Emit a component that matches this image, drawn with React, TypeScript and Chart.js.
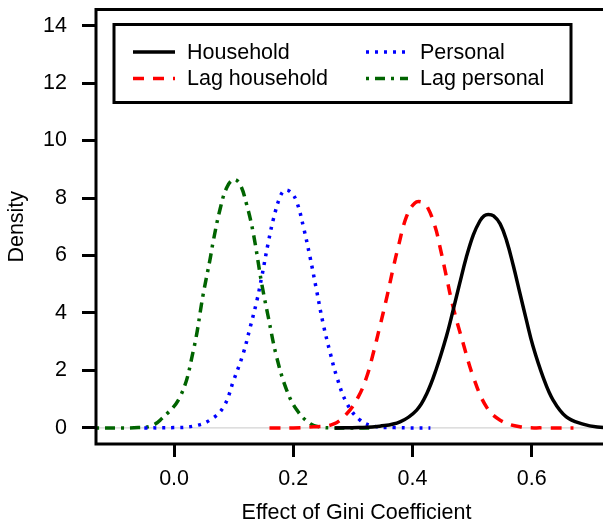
import React, { useEffect, useRef } from "react";
import { Chart, registerables } from "chart.js";

Chart.register(...registerables);

// ---- data ----
const seriesLabels = ["Household", "Lag household", "Personal", "Lag personal"];

const householdX = [0.27, 0.31, 0.345, 0.379, 0.407, 0.424, 0.44, 0.457, 0.468, 0.479, 0.49, 0.502, 0.513, 0.52, 0.527, 0.536, 0.547, 0.558, 0.569, 0.58, 0.591, 0.602, 0.619, 0.636, 0.658, 0.686, 0.71, 0.745];
const householdY = [0, 0.01, 0.06, 0.21, 0.62, 1.2, 2.06, 3.2, 4.09, 5.02, 5.92, 6.72, 7.2, 7.38, 7.43, 7.38, 7.1, 6.5, 5.65, 4.7, 3.75, 2.85, 1.77, 0.96, 0.38, 0.13, 0.03, 0];

const lagHouseholdX = [0.16, 0.2, 0.234, 0.267, 0.29, 0.309, 0.323, 0.334, 0.345, 0.357, 0.368, 0.376, 0.39, 0.404, 0.415, 0.424, 0.438, 0.446, 0.457, 0.468, 0.485, 0.502, 0.524, 0.547, 0.58, 0.62, 0.67];
const lagHouseholdY = [0, 0, 0.04, 0.13, 0.5, 1.08, 1.77, 2.59, 3.51, 4.56, 5.6, 6.3, 7.36, 7.83, 7.86, 7.72, 6.99, 6.3, 5.25, 4.21, 2.94, 1.77, 0.73, 0.27, 0.04, 0, 0];

const personalX = [-0.05, 0.0, 0.032, 0.06, 0.083, 0.1, 0.116, 0.127, 0.139, 0.147, 0.158, 0.167, 0.178, 0.186, 0.196, 0.206, 0.217, 0.228, 0.239, 0.25, 0.262, 0.273, 0.29, 0.312, 0.335, 0.37, 0.43];
const personalY = [0, 0.01, 0.06, 0.27, 0.73, 1.66, 2.59, 3.45, 4.44, 5.25, 6.45, 7.3, 8.05, 8.27, 8.2, 7.85, 6.99, 5.95, 4.79, 3.63, 2.6, 1.77, 0.85, 0.27, 0.06, 0.01, 0];

const lagPersonalX = [-0.131, -0.099, -0.06, -0.04, -0.0235, 0.01, 0.0324, 0.049, 0.06, 0.066, 0.077, 0.088, 0.0995, 0.11, 0.122, 0.133, 0.147, 0.158, 0.172, 0.189, 0.206, 0.228, 0.245, 0.27, 0.33];
const lagPersonalY = [0, 0, 0.01, 0.06, 0.27, 1.08, 2.7, 4.67, 5.83, 6.53, 7.6, 8.35, 8.64, 8.5, 7.75, 6.76, 5.02, 3.86, 2.47, 1.31, 0.62, 0.15, 0.03, 0, 0];

const xTicks = [0, 0.2, 0.4, 0.6];
const yTicks = [0, 2, 4, 6, 8, 10, 12, 14];

const xTitle = "Effect of Gini Coefficient";
const yTitle = "Density";

// ---- styles ----
const FONT_FAMILY = '"Liberation Sans", Arial, Helvetica, sans-serif';
const FONT_SIZE = 21.5;
const styles = [
  { color: "#000000", dash: [] as number[], width: 3.5 },
  { color: "#ff0000", dash: [11, 9], width: 3.5 },
  { color: "#0000ff", dash: [3, 6], width: 3.5 },
  { color: "#006400", dash: [3, 6, 10, 6], width: 3.5 },
];

const toPoints = (xs: number[], ys: number[]) => xs.map((x, i) => ({ x, y: ys[i] }));

const zeroLinePlugin = {
  id: "zeroLine",
  beforeDatasetsDraw(chart: any) {
    const { ctx, chartArea, scales } = chart;
    const y = scales.y.getPixelForValue(0);
    ctx.save();
    ctx.strokeStyle = "#c8c8c8";
    ctx.lineWidth = 1;
    ctx.beginPath();
    ctx.moveTo(chartArea.left, y);
    ctx.lineTo(chartArea.right, y);
    ctx.stroke();
    ctx.restore();
  },
};

const framePlugin = {
  id: "frame",
  afterDatasetsDraw(chart: any) {
    const { ctx, chartArea } = chart;
    ctx.save();
    ctx.strokeStyle = "#000";
    ctx.lineWidth = 3;
    ctx.strokeRect(chartArea.left, chartArea.top, chartArea.right - chartArea.left, chartArea.bottom - chartArea.top);
    ctx.restore();
  },
};

const boxLegendPlugin = {
  id: "boxLegend",
  afterDatasetsDraw(chart: any) {
    const { ctx, chartArea } = chart;
    const x0 = chartArea.left + 18;
    const y0 = chartArea.top + 15;
    const w = 457;
    const h = 78;
    ctx.save();
    ctx.fillStyle = "#fff";
    ctx.fillRect(x0, y0, w, h);
    ctx.strokeStyle = "#000";
    ctx.lineWidth = 3;
    ctx.strokeRect(x0, y0, w, h);
    const colX = [19, 252];
    const rowY = [27.5, 54];
    chart.data.datasets.forEach((ds: any, i: number) => {
      const col = Math.floor(i / 2);
      const row = i % 2;
      const lx = x0 + colX[col];
      const ly = y0 + rowY[row];
      ctx.save();
      ctx.strokeStyle = ds.borderColor;
      ctx.lineWidth = ds.borderWidth;
      ctx.setLineDash(ds.borderDash || []);
      ctx.lineCap = "butt";
      ctx.beginPath();
      ctx.moveTo(lx, ly);
      ctx.lineTo(lx + 42, ly);
      ctx.stroke();
      ctx.restore();
      ctx.fillStyle = "#000";
      ctx.font = `${FONT_SIZE}px ${FONT_FAMILY}`;
      ctx.textBaseline = "middle";
      ctx.textAlign = "left";
      ctx.fillText(ds.label, lx + 54, ly + 1);
    });
    ctx.restore();
  },
};

export default function App() {
  const canvasRef = useRef<HTMLCanvasElement | null>(null);

  useEffect(() => {
    if (!canvasRef.current) return;
    const seriesData = [
      toPoints(householdX, householdY),
      toPoints(lagHouseholdX, lagHouseholdY),
      toPoints(personalX, personalY),
      toPoints(lagPersonalX, lagPersonalY),
    ];
    const font = { family: FONT_FAMILY, size: FONT_SIZE };
    const chart = new Chart(canvasRef.current, {
      type: "line",
      data: {
        datasets: seriesData.map((d, i) => ({
          label: seriesLabels[i],
          data: d,
          borderColor: styles[i].color,
          backgroundColor: styles[i].color,
          borderWidth: styles[i].width,
          borderDash: styles[i].dash,
          borderCapStyle: "butt",
          borderJoinStyle: "round",
          pointRadius: 0,
          fill: false,
          tension: 0.4,
        })),
      },
      options: {
        responsive: false,
        animation: false,
        devicePixelRatio: 1,
        layout: { padding: { top: 9.5, right: 3, left: 0, bottom: 0 } },
        plugins: { legend: { display: false }, tooltip: { enabled: false } },
        scales: {
          x: {
            type: "linear",
            min: -0.131,
            max: 0.743,
            border: { display: false },
            grid: { display: true, drawOnChartArea: false, drawTicks: true, tickLength: 13, tickWidth: 3, tickColor: "#000" },
            ticks: { font, color: "#000", padding: 9, maxRotation: 0, callback: (v: any) => Number(v).toFixed(1) },
            afterBuildTicks: (axis: any) => {
              axis.ticks = xTicks.map((v) => ({ value: v }));
            },
            afterFit: (scale: any) => {
              scale.height = 82;
              scale.paddingLeft = 0;
              scale.paddingRight = 0;
              scale.paddingTop = 0;
              scale.paddingBottom = 0;
            },
            title: { display: true, text: xTitle, font, color: "#000", padding: { top: 0, bottom: 0 } },
          },
          y: {
            type: "linear",
            min: -0.56,
            max: 14.56,
            border: { display: false },
            grid: { display: true, drawOnChartArea: false, drawTicks: true, tickLength: 14, tickWidth: 3, tickColor: "#000" },
            ticks: { font, color: "#000", padding: 15, callback: (v: any) => String(v) },
            afterBuildTicks: (axis: any) => {
              axis.ticks = yTicks.map((v) => ({ value: v }));
            },
            afterFit: (scale: any) => {
              scale.width = 96;
              scale.paddingLeft = 0;
              scale.paddingRight = 0;
              scale.paddingTop = 0;
              scale.paddingBottom = 0;
            },
            title: { display: true, text: yTitle, font, color: "#000", padding: { top: 4.5, bottom: 0 } },
          },
        },
      },
      plugins: [zeroLinePlugin, framePlugin, boxLegendPlugin],
    } as any);
    return () => chart.destroy();
  }, []);

  return (
    <div style={{ position: "fixed", left: 0, top: 0, width: 603, height: 526, overflow: "hidden", background: "#fff" }}>
      <canvas ref={canvasRef} width={620} height={526} style={{ display: "block" }} />
    </div>
  );
}
